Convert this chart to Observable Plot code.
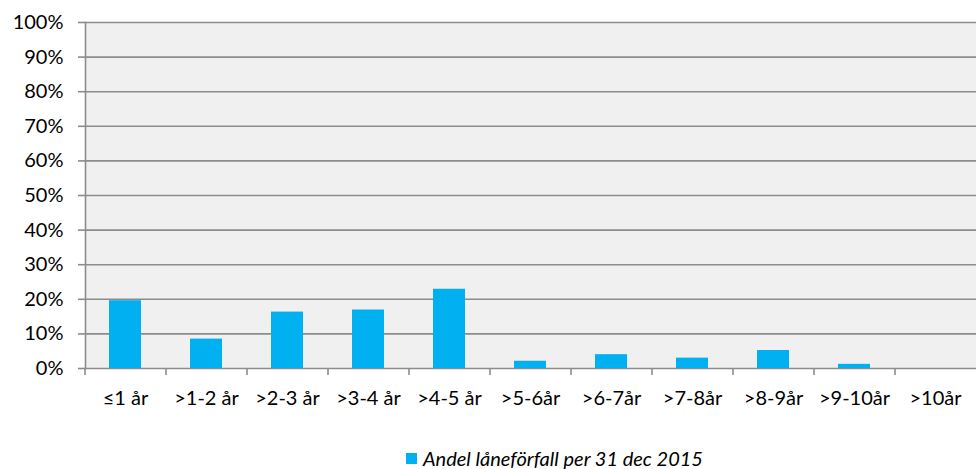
<!DOCTYPE html>
<html>
<head>
<meta charset="utf-8">
<script src="https://cdn.jsdelivr.net/npm/d3@7"></script>
<script src="https://cdn.jsdelivr.net/npm/@observablehq/plot@0.6"></script>
<style>
  html, body { margin: 0; padding: 0; background: #fff; }
  body { width: 976px; height: 469px; overflow: hidden; font-family: Lato, "Open Sans", sans-serif; }
  #legend { display: flex; align-items: center; margin-left: 406px; padding-top: 28px; font-size: 20px; font-style: italic; color: #000; line-height: 20px; }
  #legend .sw { width: 11px; height: 11px; background: #00b0f0; margin-right: 6px; }
</style>
</head>
<body>
<div id="chart"></div>
<div id="legend"><span class="sw"></span><span id="legend-text"></span></div>
<script>
const categories = ["≤1 år", ">1-2 år", ">2-3 år", ">3-4 år", ">4-5 år", ">5-6år", ">6-7år", ">7-8år", ">8-9år", ">9-10år", ">10år"];
const values = [19.6, 8.5, 16.3, 16.9, 22.9, 2.1, 4.0, 3.0, 5.2, 1.2, 0];
const yTicks = [0, 10, 20, 30, 40, 50, 60, 70, 80, 90, 100];
const seriesName = "Andel låneförfall per 31 dec 2015";

const data = categories.map((c, i) => ({cat: c, value: values[i]}));

const W = 976, ML = 85, MR = 0;
const step = (W - ML - MR) / categories.length;

const chart = Plot.plot({
  width: W,
  height: 420,
  marginLeft: ML,
  marginRight: MR,
  marginTop: 22,
  marginBottom: 52,
  style: {fontFamily: "Lato, 'Open Sans', sans-serif", fontSize: "20px", color: "#000", background: "#fff"},
  x: {domain: categories, paddingInner: 0.6, paddingOuter: 0.3, label: null},
  y: {domain: [0, 100], label: null},
  marks: [
    Plot.frame({fill: "#f0f0f0", stroke: null}),
    Plot.ruleY(yTicks, {stroke: "#8c8c8c", strokeWidth: 1.6}),
    Plot.barY(data, {x: "cat", y: "value", fill: "#00b0f0"}),
    Plot.frame({anchor: "left", stroke: "#8c8c8c", strokeWidth: 1.6}),
    Plot.axisY({ticks: yTicks, tickFormat: d => d + "%", tickSize: 7, tickPadding: 15, stroke: "#8c8c8c", strokeWidth: 1.6, strokeOpacity: 1, fill: "#000", label: null}),
    Plot.axisX({tickSize: 7, tickFormat: () => "", dx: -step / 2, stroke: "#8c8c8c", strokeWidth: 1.6, strokeOpacity: 1, label: null}),
    Plot.axisX({tickSize: 0, tickPadding: 22, fill: "#000", label: null})
  ]
});
document.getElementById("chart").appendChild(chart);
document.getElementById("legend-text").textContent = seriesName;
</script>
</body>
</html>
